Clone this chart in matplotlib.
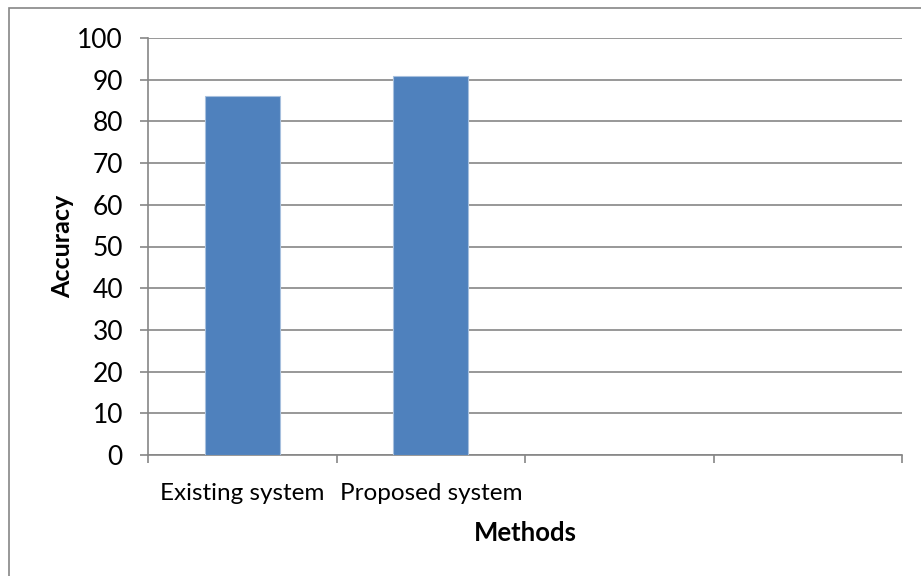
import matplotlib.pyplot as plt
from matplotlib.patches import Rectangle

plt.rcParams['font.family'] = ['Lato', 'DejaVu Sans']

# Datos del gráfico
metodos = ["Existing system", "Proposed system", "", ""]
precision = [86, 91, None, None]
yticks = [0, 10, 20, 30, 40, 50, 60, 70, 80, 90, 100]

gris = '#868686'
azul = '#4f81bd'

fig = plt.figure(figsize=(9.21, 5.76), dpi=100)
ax = fig.add_axes([148 / 921, 1 - 455 / 576, (902 - 148) / 921, (455 - 38) / 576])

# Marco exterior del gráfico (solo se ven borde superior e izquierdo)
fig.patches.append(Rectangle((9 / 921, -0.1), 1.2, 1 - 8 / 576 + 0.1,
                             transform=fig.transFigure, fill=False,
                             edgecolor=gris, linewidth=1.2))

pos = list(range(len(metodos)))
for i, v in enumerate(precision):
    if v is not None:
        ax.bar(i, v, width=0.4, color=azul, edgecolor='#a7c0de', linewidth=0.8, zorder=3)

ax.set_xlim(-0.5, len(metodos) - 0.5)
ax.set_ylim(0, 100)
ax.set_yticks(yticks)
ax.yaxis.grid(True, color=gris, linewidth=1.2)
ax.set_axisbelow(True)

# Marcas del eje x en los límites de cada categoría
ax.set_xticks([p - 0.5 for p in pos] + [len(metodos) - 0.5])
ax.set_xticklabels([])
ax.set_xticks(pos, minor=True)
ax.set_xticklabels(metodos, minor=True, fontsize=17.5)
ax.tick_params(axis='x', which='minor', length=0, pad=20)
ax.tick_params(axis='x', which='major', length=6, color=gris, width=1.2)
ax.tick_params(axis='y', length=6, color=gris, width=1.2, labelsize=19, pad=12)

for s in ['top', 'right']:
    ax.spines[s].set_visible(False)
for s in ['left', 'bottom']:
    ax.spines[s].set_color(gris)
    ax.spines[s].set_linewidth(1.2)

ax.set_xlabel("Methods", fontsize=18.5, fontweight='bold', labelpad=12.5)
ax.set_ylabel("Accuracy", fontsize=18, fontweight='bold', labelpad=2)

plt.savefig('out.png', dpi=100)
